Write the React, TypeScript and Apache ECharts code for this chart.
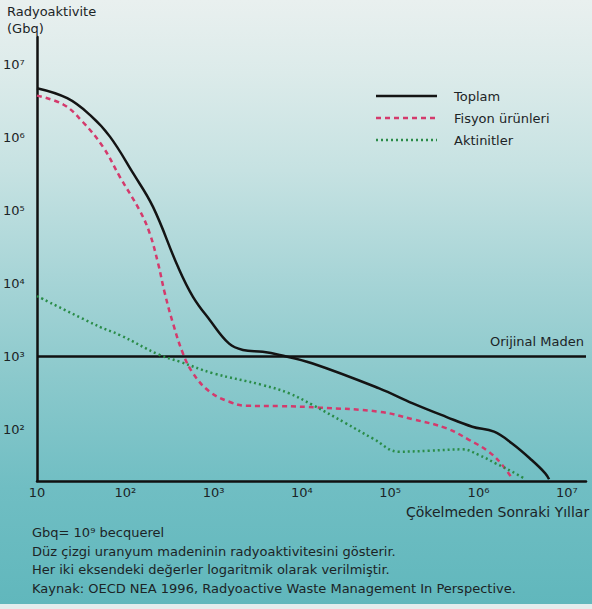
import React, { useEffect, useRef } from "react";
import * as echarts from "echarts";

// Years after discharge (x) and radioactivity in Gbq (y)
const toplamYears = [10, 22, 40, 67, 122, 206, 395, 584, 900, 1500, 2150, 3600, 5600, 13000, 75000, 180000, 430000, 850000, 1500000, 2400000, 4000000, 5700000, 6300000];
const toplamValues = [4.8e6, 3.5e6, 2.05e6, 1.04e6, 3.3e5, 1.13e5, 1.7e4, 6600, 3200, 1500, 1230, 1160, 1050, 810, 366, 228, 149, 109, 93, 64, 38, 25, 20.7];

const fisyonYears = [10, 20, 33, 56, 87, 146, 189, 235, 280, 347, 450, 584, 900, 1500, 2340, 5600, 15800, 75000, 180000, 430000, 780000, 1320000, 1860000, 2400000];
const fisyonValues = [3.8e6, 2.85e6, 1.65e6, 7.5e5, 2.9e5, 1.0e5, 4.9e4, 1.9e4, 7400, 2850, 1100, 590, 330, 240, 211, 209, 199, 175, 138, 104, 72, 49, 32.5, 21.3];

const aktinitYears = [10, 51, 87, 245, 413, 983, 3600, 7200, 13250, 31600, 63100, 126000, 276000, 657000, 1010000, 1560000, 2410000, 3410000];
const aktinitValues = [6760, 2560, 1970, 1050, 850, 590, 406, 312, 216, 121, 75.5, 49.4, 51, 53.3, 44.6, 34.3, 26.3, 20.7];

const orijinalMaden = 1000;

const seriesNames = ["Toplam", "Fisyon ürünleri", "Aktinitler"];
const seriesColors = ["#141414", "#d43a6c", "#2a8c48"];

const supDigits: Record<string, string> = { "0": "⁰", "1": "¹", "2": "²", "3": "³", "4": "⁴", "5": "⁵", "6": "⁶", "7": "⁷", "8": "⁸", "9": "⁹" };

const FONT = "'DejaVu Sans', 'Liberation Sans', Arial, sans-serif";
const TEXT = "#1c2426";

function powLabel(v: number): string {
  const e = Math.log10(v);
  const r = Math.round(e);
  if (Math.abs(e - r) > 1e-6) return "";
  if (r === 1) return "10";
  return "10" + String(r).split("").map((d) => supDigits[d]).join("");
}

function pairs(xs: number[], ys: number[]) {
  return xs.map((x, i) => [x, ys[i]]);
}

export default function App() {
  const ref = useRef<HTMLDivElement>(null);

  useEffect(() => {
    document.body.style.margin = "0";
    if (!ref.current) return;
    const chart = echarts.init(ref.current, undefined, { renderer: "svg" });

    const legendRows = [96, 118, 140];
    const dashes: (number[] | null)[] = [null, [5, 4], [2, 3]];

    const graphic: any[] = [
      { type: "rect", left: 0, top: 604, shape: { width: 592, height: 5 }, style: { fill: "#e4eded" }, silent: true },
      { type: "text", left: 7, top: 5, style: { text: "Radyoaktivite", font: `13px ${FONT}`, fill: TEXT } },
      { type: "text", left: 7, top: 22, style: { text: "(Gbq)", font: `13px ${FONT}`, fill: TEXT } },
      { type: "text", left: 406, top: 505, style: { text: "Çökelmeden Sonraki Yıllar", font: `14px ${FONT}`, fill: TEXT } },
      { type: "text", left: 32, top: 526, style: { text: "Gbq= 10⁹ becquerel", font: `13px ${FONT}`, fill: TEXT } },
      { type: "text", left: 32, top: 545, style: { text: "Düz çizgi uranyum madeninin radyoaktivitesini gösterir.", font: `13px ${FONT}`, fill: TEXT } },
      { type: "text", left: 32, top: 563, style: { text: "Her iki eksendeki değerler logaritmik olarak verilmiştir.", font: `13px ${FONT}`, fill: TEXT } },
      { type: "text", left: 32, top: 582, style: { text: "Kaynak: OECD NEA 1996, Radyoactive Waste Management In Perspective.", font: `13px ${FONT}`, fill: TEXT } },
    ];
    seriesNames.forEach((name, i) => {
      graphic.push({
        type: "line",
        shape: { x1: 376, y1: legendRows[i], x2: 437, y2: legendRows[i] },
        style: { stroke: seriesColors[i], lineWidth: 2.5, lineDash: dashes[i] || undefined },
      });
      graphic.push({
        type: "text",
        x: 454,
        y: legendRows[i],
        style: { text: name, font: `13px ${FONT}`, fill: TEXT, verticalAlign: "middle" },
      });
    });

    const lineSeries = (idx: number, data: number[][]) => ({
      name: seriesNames[idx],
      type: "line",
      data,
      symbol: "none",
      smooth: 0.4,
      lineStyle: { color: seriesColors[idx], width: 2.5, type: dashes[idx] || "solid" },
      z: 3 + idx,
    });

    chart.setOption({
      animation: false,
      backgroundColor: "transparent",
      textStyle: { fontFamily: FONT },
      graphic,
      grid: { left: 37, right: 6, top: 37, bottom: 128, containLabel: false },
      xAxis: {
        type: "log",
        logBase: 10,
        min: 10,
        max: 1.65e7,
        axisLine: { show: true, lineStyle: { color: "#111", width: 2.5 } },
        axisTick: { show: false },
        splitLine: { show: false },
        axisLabel: {
          formatter: (v: number) => powLabel(v),
          color: TEXT,
          fontSize: 13,
          fontFamily: FONT,
          margin: 5,
          showMinLabel: true,
          showMaxLabel: true,
          hideOverlap: false,
        },
      },
      yAxis: {
        type: "log",
        logBase: 10,
        min: 19.6,
        max: 2.42e7,
        axisLine: { show: true, lineStyle: { color: "#111", width: 2.5 } },
        axisTick: { show: false },
        splitLine: { show: false },
        axisLabel: {
          formatter: (v: number) => powLabel(v),
          color: TEXT,
          fontSize: 13,
          fontFamily: FONT,
          align: "left",
          margin: 34,
          padding: [5, 0, 0, 0],
          hideOverlap: false,
        },
      },
      series: [
        {
          ...lineSeries(0, pairs(toplamYears, toplamValues)),
          markLine: {
            silent: true,
            symbol: ["none", "none"],
            lineStyle: { color: "#111", width: 2.5, type: "solid" },
            label: {
              show: true,
              position: "insideEndTop",
              formatter: "Orijinal Maden",
              color: TEXT,
              fontSize: 13,
              fontFamily: FONT,
              distance: [2, 9],
            },
            data: [{ yAxis: orijinalMaden }],
          },
        },
        lineSeries(1, pairs(fisyonYears, fisyonValues)),
        lineSeries(2, pairs(aktinitYears, aktinitValues)),
      ],
    });

    return () => chart.dispose();
  }, []);

  return (
    <div
      style={{
        position: "absolute",
        left: 0,
        top: 0,
        width: 592,
        height: 609,
        background:
          "linear-gradient(to bottom, #e9f0ef 0%, #dcebea 12%, #c6e2e2 28%, #a8d5d7 45%, #8bc9cc 62%, #70bec3 80%, #60b7bc 100%)",
      }}
    >
      <div ref={ref} style={{ width: 592, height: 609 }} />
    </div>
  );
}
